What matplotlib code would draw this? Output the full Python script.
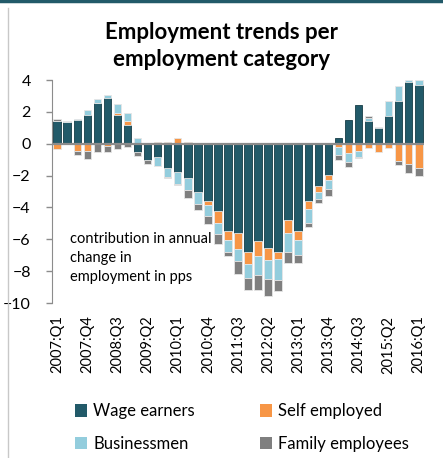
import numpy as np
import matplotlib.pyplot as plt
from matplotlib.patches import Patch
from matplotlib.lines import Line2D

plt.rcParams['font.family'] = ['Lato', 'DejaVu Sans']

# quarters 2007:Q1 .. 2016:Q1
quarters = [f"{y}:Q{q}" for y in range(2007, 2017) for q in range(1, 5)][:37]

# contributions in pps
wage = [1.42, 1.35, 1.48, 1.83, 2.56, 2.87, 1.80, 1.17, -0.50, -1.05,
        -0.85, -1.50, -1.80, -2.17, -3.00, -3.62, -4.25, -5.45, -5.60, -6.77,
        -6.12, -6.56, -6.81, -4.79, -5.50, -3.62, -2.65, -1.98, 0.37, 1.52,
        2.40, 1.42, 0.98, 1.77, 2.67, 3.88, 3.67]
self_emp = [-0.30, 0.00, -0.45, -0.45, 0.00, -0.15, 0.15, 0.25, 0.05, 0.00,
            0.10, 0.12, 0.33, 0.12, 0.05, -0.20, -0.75, -0.62, -1.00, -0.77,
            -0.90, -0.71, -0.40, -0.81, -0.52, -0.46, -0.35, -0.29, -0.19, -0.56,
            -0.46, -0.25, -0.54, -0.29, -1.08, -1.25, -1.50]
business = [0.00, 0.10, 0.10, 0.30, 0.27, 0.20, 0.55, 0.48, 0.30, 0.00,
            -0.52, -0.62, -0.73, -0.75, -0.78, -0.73, -0.67, -0.73, -0.78, -0.87,
            -1.23, -1.21, -1.33, -1.17, -0.94, -0.87, -0.44, -0.60, -0.52, -0.56,
            -0.38, 0.20, 0.08, 0.90, 0.94, 0.10, 0.30]
family = [0.15, 0.00, -0.25, -0.50, -0.50, -0.40, -0.35, -0.20, -0.28, -0.20,
          -0.03, -0.05, -0.05, -0.48, -0.40, -0.52, -0.62, -0.25, -0.80, -0.80,
          -0.92, -1.10, -0.71, -0.73, -0.50, -0.29, -0.25, -0.42, -0.29, -0.33,
          -0.08, 0.15, 0.00, 0.00, -0.25, -0.58, -0.50]

series = [("Wage earners", wage, "#225a69"),
          ("Self employed", self_emp, "#f79646"),
          ("Businessmen", business, "#93cddd"),
          ("Family employees", family, "#7f7f7f")]

fig = plt.figure(figsize=(4.43, 4.58), dpi=100)
ax = fig.add_axes([0.1167, 0.3384, 0.841, 0.4869])

x = np.arange(len(quarters))
pos = np.zeros(len(x))
neg = np.zeros(len(x))
for name, vals, col in series:
    v = np.array(vals)
    base = np.where(v >= 0, pos, neg)
    ec = "#173d47" if name == "Wage earners" else "#e6e6e6"
    ax.bar(x, v, 0.75, bottom=base, color=col, edgecolor=ec, linewidth=0.6,
           zorder=3, clip_on=False)
    pos = pos + np.where(v >= 0, v, 0)
    neg = neg + np.where(v < 0, v, 0)

ax.axhline(0, color="#8c8c8c", linewidth=1.6, zorder=4)

ax.set_xlim(-0.55, len(x) - 0.45)
ax.set_ylim(-10, 4)
ax.set_yticks(np.arange(-10, 5, 2))
ax.set_xticks(x[::3])
ax.set_xticklabels(quarters[::3], rotation=90, fontsize=10.5)
ax.tick_params(axis='x', length=0, pad=9)
ax.tick_params(axis='y', length=4, width=1, color="#8c8c8c", pad=11, labelsize=11.5)
for s in ["top", "right", "bottom"]:
    ax.spines[s].set_visible(False)
ax.spines["left"].set_color("#8c8c8c")

ax.text(1.3, -7.2, "contribution in annual\nchange in\nemployment in pps",
        fontsize=10.5, va="center", ha="left", linespacing=1.45)

fig.text(0.5, 0.9, "Employment trends per\nemployment category", ha="center",
         va="center", fontsize=16, fontweight="bold", linespacing=1.35)

# legend rows: wage / self employed, businessmen / family employees
order = [0, 2, 1, 3]
handles = [Patch(facecolor=series[i][2], edgecolor="none") for i in order]
labels = [series[i][0] for i in order]
fig.legend(handles, labels, ncol=2, frameon=False, fontsize=12,
           loc="upper left", bbox_to_anchor=(0.135, 0.152),
           bbox_transform=fig.transFigure, handlelength=0.75, handleheight=0.75,
           handletextpad=0.35, columnspacing=3.9, labelspacing=1.0)

# frame lines
fig.add_artist(Line2D([0, 1], [0.997, 0.997], color="#225a69", linewidth=2.5,
                      transform=fig.transFigure))
fig.add_artist(Line2D([8 / 443, 8 / 443], [0, 1 - 8 / 458], color="#c8c8c8",
                      linewidth=1, transform=fig.transFigure))

fig.savefig("out.png", dpi=100)
